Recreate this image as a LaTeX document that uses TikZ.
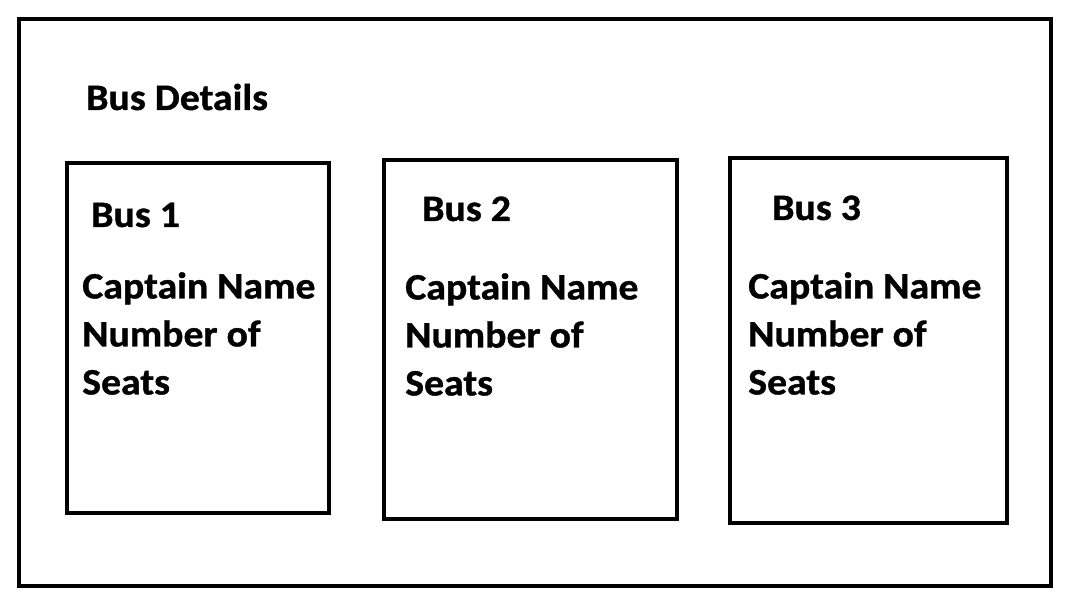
\documentclass[tikz,border=0pt]{standalone}
\usepackage{fontspec}
\setmainfont{Carlito}[FakeStretch=1.065, FakeBold=1]
\usetikzlibrary{positioning}

\tikzset{
  frame/.style={draw, line width=3pt, inner sep=0pt, outer sep=0pt, anchor=north west},
  label/.style={font=\bfseries\fontsize{28}{36}\selectfont, inner sep=0pt, anchor=base west},
  info/.style={font=\bfseries\fontsize{28}{36}\selectfont, inner sep=0pt, anchor=north west, align=left}
}

\begin{document}
\begin{tikzpicture}[x=0.75pt, y=-0.75pt]
    \useasboundingbox (0,0) rectangle (1082,616);

    % Outer frame
    \node[frame, minimum width=774pt, minimum height=425.25pt] (details) at (19,19) {};
    \node[label] (title) at (86,110) {Bus Details};

    % Bus boxes
    \node[frame, minimum width=196.5pt, minimum height=262.5pt] (bus1) at (67,163) {};
    \node[frame, minimum width=219.75pt, minimum height=269.25pt] (bus2) at (384,160) {};
    \node[frame, minimum width=207.75pt, minimum height=273.75pt] (bus3) at (730,158) {};

    % Labels
    \node[label] (name1) at (91,227) {Bus 1};
    \node[label] (name2) at (422,221) {Bus 2};
    \node[label] (name3) at (772,220) {Bus 3};

    % Details of each bus
    \node[info] (info1) at (82,272) {Captain Name\\Number of\\Seats};
    \node[info] (info2) at (405,273) {Captain Name\\Number of\\Seats};
    \node[info] (info3) at (748,272) {Captain Name\\Number of\\Seats};
\end{tikzpicture}
\end{document}
